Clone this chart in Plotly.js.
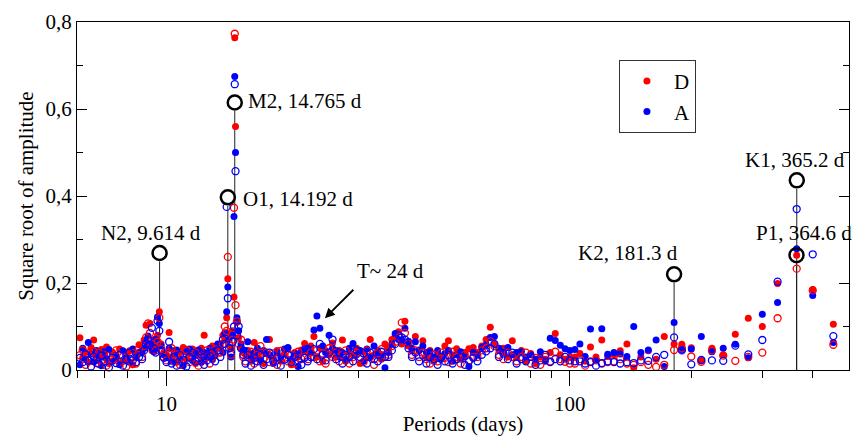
<!DOCTYPE html>
<html><head><meta charset="utf-8">
<script src="https://cdn.plot.ly/plotly-3.0.1.min.js"></script>
<style>html,body{margin:0;padding:0;background:#fff}#chart{width:854px;height:436px}</style>
</head><body><div id="chart"></div>
<script>
// Periods (days) – shared frequency grid (subsampled)
const periods = [
 6.0, 6.1, 6.2, 6.3, 6.4, 6.5, 6.6, 6.7, 6.8, 6.9, 7.0, 7.1, 7.2, 7.35, 7.5, 7.65, 7.8, 7.95, 8.1, 8.25, 8.4, 8.55,
 8.7, 8.8, 8.9, 9.0, 9.1, 9.2, 9.3, 9.4, 9.5, 9.6, 9.7, 9.85, 10.0,
 10.15, 10.3, 10.45, 10.6, 10.8, 11.0, 11.2, 11.4, 11.6, 11.8, 12.0, 12.2, 12.4, 12.6, 12.8, 13.0, 13.2, 13.4,
 13.6, 13.8, 13.95, 14.1, 14.192, 14.3, 14.45, 14.6, 14.7, 14.765, 14.83, 14.95, 15.1, 15.3, 15.5,
 15.7, 15.9, 16.2, 16.5, 16.8, 17.1, 17.4, 17.7, 18.0, 18.4, 18.8, 19.2, 19.6, 20.0, 20.4, 20.8, 21.2, 21.6, 22.0,
 22.4, 22.8, 23.2, 23.6, 24.0, 24.4, 24.8, 25.3, 25.8,
 26.3, 26.8, 27.3, 27.8, 28.4, 29.0, 29.6, 30.2, 30.8, 31.4, 32.0, 32.7, 33.4, 34.1, 34.8,
 35.5, 36.2, 36.9, 37.6, 38.3, 39.0, 39.8, 40.6, 41.4,
 42.3, 43.2, 44.1, 45.0, 46.0, 47.0, 48.0, 49.0, 50.0, 51.2, 52.4, 53.6, 54.9, 56.2, 57.6,
 59.0, 60.5, 62.0, 63.5, 65.0, 66.7, 68.4, 70.2, 72.0,
 73.8, 75.8, 77.8, 80.0, 82.2, 84.5, 86.9, 89.4, 92.0, 94.7, 97.3, 100.0,
 102.9, 105.9, 109.1, 112.5, 116.1, 120.0, 124.1, 128.6, 133.3, 138.5, 144.0, 150.0, 156.5, 163.6, 171.4, 181.3, 189.5, 200.0, 211.8, 225.0, 240.0, 257.1, 276.9, 300.0, 327.3, 365.0, 400.0, 450.0
];
// D, filled markers
const ampDfilled = [
 0.045, 0.074, 0.028, 0.040, 0.018, 0.052, 0.069, 0.035, 0.022, 0.047, 0.030, 0.053, 0.015, 0.041, 0.026, 0.048, 0.020, 0.036, 0.044, 0.012, 0.038, 0.058,
 0.050, 0.069, 0.103, 0.060, 0.107, 0.045, 0.070, 0.055, 0.080, 0.134, 0.060, 0.040, 0.035,
 0.086, 0.030, 0.045, 0.018, 0.040, 0.052, 0.025, 0.038, 0.048, 0.015, 0.035, 0.050, 0.080, 0.028, 0.042, 0.055, 0.033, 0.058,
 0.060, 0.080, 0.070, 0.120, 0.210, 0.085, 0.050, 0.090, 0.168, 0.764, 0.560, 0.110, 0.075, 0.050, 0.040,
 0.035, 0.045, 0.020, 0.063, 0.030, 0.042, 0.015, 0.038, 0.070, 0.028, 0.045, 0.020, 0.036, 0.050, 0.012, 0.040, 0.030, 0.046, 0.061,
 0.040, 0.055, 0.077, 0.030, 0.050, 0.020, 0.045, 0.035, 0.062,
 0.030, 0.045, 0.069, 0.020, 0.040, 0.035, 0.050, 0.015, 0.042, 0.028, 0.070, 0.035, 0.045, 0.025, 0.060,
 0.050, 0.070, 0.080, 0.088, 0.060, 0.112, 0.055, 0.045, 0.077,
 0.045, 0.067, 0.030, 0.045, 0.020, 0.038, 0.030, 0.055, 0.067, 0.035, 0.049, 0.025, 0.040, 0.049, 0.052,
 0.040, 0.055, 0.070, 0.098, 0.060, 0.045, 0.050, 0.030, 0.067,
 0.030, 0.045, 0.020, 0.038, 0.015, 0.030, 0.025, 0.040, 0.084, 0.035, 0.025, 0.030,
 0.030, 0.038, 0.020, 0.053, 0.030, 0.069, 0.031, 0.035, 0.044, 0.060, 0.005, 0.030, 0.044, 0.025, 0.077, 0.060, 0.059, 0.051, 0.022, 0.050, 0.035, 0.082, 0.119, 0.100, 0.199, 0.264, 0.185, 0.105
];
// D, open markers
const ampDopen = [
 0.020, 0.034, 0.046, 0.012, 0.038, 0.025, 0.043, 0.016, 0.040, 0.022, 0.035, 0.010, 0.032, 0.024, 0.045, 0.018, 0.030, 0.008, 0.026, 0.039, 0.015, 0.050,
 0.030, 0.055, 0.075, 0.107, 0.085, 0.060, 0.050, 0.045, 0.065, 0.120, 0.048, 0.030, 0.022,
 0.040, 0.050, 0.020, 0.036, 0.012, 0.030, 0.046, 0.018, 0.028, 0.040, 0.010, 0.034, 0.025, 0.045, 0.015, 0.030, 0.048, 0.040,
 0.040, 0.060, 0.100, 0.090, 0.260, 0.060, 0.035, 0.070, 0.373, 0.773, 0.149, 0.112, 0.060, 0.070, 0.030,
 0.020, 0.030, 0.042, 0.015, 0.035, 0.055, 0.025, 0.040, 0.018, 0.038, 0.012, 0.044, 0.028, 0.020, 0.035, 0.015, 0.042, 0.025, 0.030,
 0.025, 0.040, 0.030, 0.045, 0.020, 0.038, 0.015, 0.050, 0.030,
 0.040, 0.020, 0.035, 0.045, 0.015, 0.030, 0.040, 0.025, 0.018, 0.045, 0.030, 0.012, 0.038, 0.048, 0.030,
 0.035, 0.055, 0.065, 0.075, 0.109, 0.085, 0.060, 0.035, 0.045,
 0.030, 0.040, 0.025, 0.015, 0.035, 0.020, 0.040, 0.028, 0.018, 0.042, 0.030, 0.015, 0.035, 0.022, 0.030,
 0.030, 0.045, 0.050, 0.066, 0.055, 0.035, 0.025, 0.040, 0.030,
 0.020, 0.030, 0.040, 0.015, 0.028, 0.012, 0.030, 0.020, 0.042, 0.025, 0.019, 0.015,
 0.015, 0.025, 0.010, 0.020, 0.022, 0.015, 0.018, 0.020, 0.025, 0.015, 0.012, 0.018, 0.012, 0.007, 0.012, 0.046, 0.050, 0.031, 0.019, 0.045, 0.033, 0.021, 0.030, 0.040, 0.119, 0.233, 0.183, 0.058
];
// A, filled markers
const ampAfilled = [
 0.030, 0.012, 0.050, 0.024, 0.063, 0.036, 0.019, 0.045, 0.030, 0.010, 0.042, 0.026, 0.047, 0.020, 0.034, 0.012, 0.044, 0.028, 0.018, 0.048, 0.030, 0.040,
 0.040, 0.050, 0.065, 0.078, 0.060, 0.050, 0.042, 0.070, 0.122, 0.107, 0.055, 0.035, 0.028,
 0.050, 0.020, 0.038, 0.046, 0.025, 0.010, 0.042, 0.048, 0.022, 0.036, 0.046, 0.018, 0.040, 0.030, 0.050, 0.024, 0.044, 0.060,
 0.050, 0.040, 0.085, 0.134, 0.191, 0.070, 0.030, 0.080, 0.353, 0.675, 0.500, 0.120, 0.090, 0.060, 0.045,
 0.045, 0.065, 0.030, 0.040, 0.050, 0.022, 0.045, 0.070, 0.035, 0.015, 0.040, 0.030, 0.048, 0.052, 0.025, 0.038, 0.008, 0.040, 0.048,
 0.050, 0.040, 0.092, 0.124, 0.096, 0.055, 0.040, 0.080, 0.050,
 0.045, 0.030, 0.040, 0.025, 0.050, 0.061, 0.035, 0.045, 0.020, 0.048, 0.030, 0.055, 0.040, 0.035, 0.005,
 0.040, 0.060, 0.084, 0.070, 0.069, 0.096, 0.066, 0.050, 0.065,
 0.046, 0.055, 0.040, 0.042, 0.030, 0.045, 0.025, 0.038, 0.045, 0.020, 0.035, 0.042, 0.030, 0.008, 0.040,
 0.035, 0.052, 0.058, 0.075, 0.077, 0.050, 0.040, 0.052, 0.035,
 0.040, 0.042, 0.030, 0.035, 0.025, 0.042, 0.020, 0.073, 0.068, 0.057, 0.049, 0.045,
 0.047, 0.060, 0.031, 0.094, 0.023, 0.095, 0.036, 0.040, 0.037, 0.031, 0.100, 0.040, 0.046, 0.069, 0.008, 0.109, 0.046, 0.048, 0.077, 0.042, 0.050, 0.059, 0.028, 0.128, 0.155, 0.279, 0.171, 0.063
];
// A, open markers
const ampAopen = [
 0.012, 0.028, 0.018, 0.036, 0.022, 0.008, 0.030, 0.024, 0.014, 0.033, 0.020, 0.038, 0.006, 0.028, 0.016, 0.035, 0.010, 0.024, 0.040, 0.022, 0.018, 0.030,
 0.025, 0.045, 0.060, 0.070, 0.058, 0.097, 0.050, 0.040, 0.113, 0.090, 0.045, 0.028, 0.018,
 0.065, 0.015, 0.030, 0.010, 0.034, 0.024, 0.008, 0.030, 0.040, 0.020, 0.028, 0.036, 0.012, 0.022, 0.032, 0.040, 0.020, 0.045,
 0.030, 0.070, 0.060, 0.375, 0.165, 0.050, 0.040, 0.065, 0.100, 0.657, 0.457, 0.080, 0.100, 0.050, 0.035,
 0.015, 0.035, 0.010, 0.028, 0.020, 0.035, 0.012, 0.025, 0.040, 0.020, 0.030, 0.010, 0.024, 0.035, 0.018, 0.030, 0.022, 0.012, 0.028,
 0.020, 0.030, 0.048, 0.025, 0.060, 0.035, 0.022, 0.040, 0.070,
 0.025, 0.040, 0.015, 0.035, 0.030, 0.020, 0.045, 0.030, 0.038, 0.015, 0.040, 0.025, 0.020, 0.042, 0.030,
 0.030, 0.045, 0.060, 0.080, 0.075, 0.070, 0.050, 0.030, 0.040,
 0.020, 0.035, 0.015, 0.030, 0.025, 0.012, 0.030, 0.020, 0.035, 0.015, 0.025, 0.030, 0.012, 0.020, 0.028,
 0.020, 0.035, 0.043, 0.050, 0.060, 0.030, 0.038, 0.025, 0.040,
 0.015, 0.025, 0.020, 0.030, 0.012, 0.022, 0.035, 0.018, 0.025, 0.020, 0.030, 0.022,
 0.020, 0.020, 0.015, 0.018, 0.010, 0.016, 0.020, 0.018, 0.015, 0.018, 0.016, 0.022, 0.021, 0.030, 0.035, 0.075, 0.045, 0.013, 0.023, 0.022, 0.021, 0.056, 0.036, 0.069, 0.203, 0.370, 0.266, 0.078
];

// Marked tidal constituents
const markLabels  = ['N2, 9.614 d', 'O1, 14.192 d', 'M2, 14.765 d', 'K2, 181.3 d', 'K1, 365.2 d', 'P1, 364.6 d'];
const markPeriods = [9.614, 14.192, 14.765, 181.3, 365.2, 364.6];
const markAmps    = [0.269, 0.397, 0.615, 0.220, 0.436, 0.264];
const arrowLabel = 'T~ 24 d';
const arrowPeriod = 24.7;
const arrowAmp = 0.119;

// Axis ticks
const xTickVals = [10, 100];
const xTickText = ['10', '100'];
const xMinorVals = [6, 7, 8, 9, 20, 30, 40, 50, 60, 70, 80, 90, 200, 300, 400];
const yTickVals = [0, 0.2, 0.4, 0.6, 0.8];
const yTickText = ['0', '0,2', '0,4', '0,6', '0,8'];
const yMinorVals = [0.1, 0.3, 0.5, 0.7];

// ---- styles ----
const FONT = 'Liberation Serif, Times New Roman, serif';
const RED = '#ff0000', BLUE = '#0000ff';
const labelStyle = [
  {xanchor: 'center', xshift: -9, yshift: 20},
  {xanchor: 'left', xshift: 13, yshift: -2},
  {xanchor: 'left', xshift: 11, yshift: 1},
  {xanchor: 'center', xshift: -46, yshift: 21},
  {xanchor: 'center', xshift: -2, yshift: 20},
  {xanchor: 'center', xshift: 8, yshift: 22}
];
const circleR = 8.5 * 0.8 / 348;

const lineX = [], lineY = [];
markPeriods.forEach((p, i) => { lineX.push(p, p, null); lineY.push(0, markAmps[i] - circleR, null); });

const traces = [
  {x: lineX, y: lineY, mode: 'lines', line: {color: '#222', width: 1}, showlegend: false, hoverinfo: 'skip'},
  {x: periods, y: ampDfilled, mode: 'markers', name: 'D', marker: {symbol: 'circle', size: 7, color: RED}, cliponaxis: false},
  {x: periods, y: ampAfilled, mode: 'markers', name: 'A', marker: {symbol: 'circle', size: 7, color: BLUE}, cliponaxis: false},
  {x: periods, y: ampDopen, mode: 'markers', name: 'D open', showlegend: false, marker: {symbol: 'circle-open', size: 7, color: RED, line: {width: 1.3}}, cliponaxis: false},
  {x: periods, y: ampAopen, mode: 'markers', name: 'A open', showlegend: false, marker: {symbol: 'circle-open', size: 7, color: BLUE, line: {width: 1.3}}, cliponaxis: false},
  {x: markPeriods, y: markAmps, mode: 'markers', showlegend: false, marker: {symbol: 'circle-open', size: 14, color: '#000', line: {width: 2.5}}, cliponaxis: false}
];

const annotations = markLabels.map((t, i) => ({
  x: Math.log10(markPeriods[i]), y: markAmps[i], xref: 'x', yref: 'y', text: t, showarrow: false,
  xanchor: labelStyle[i].xanchor, yanchor: 'middle', xshift: labelStyle[i].xshift, yshift: labelStyle[i].yshift,
  font: {family: FONT, size: 21, color: '#000'}
}));
annotations.push({
  x: Math.log10(arrowPeriod), y: arrowAmp, xref: 'x', yref: 'y', text: '', showarrow: true,
  ax: 30, ay: -30, arrowhead: 2, arrowsize: 1.1, arrowwidth: 1.8, arrowcolor: '#000'
});
annotations.push({
  x: Math.log10(arrowPeriod), y: arrowAmp, xref: 'x', yref: 'y', text: arrowLabel, showarrow: false,
  xanchor: 'center', yanchor: 'middle', xshift: 66, yshift: 47,
  font: {family: FONT, size: 21, color: '#000'}
});

const layout = {
  width: 854, height: 436,
  margin: {l: 77, r: 5, t: 22, b: 66},
  paper_bgcolor: '#fff', plot_bgcolor: '#fff',
  font: {family: FONT, size: 21, color: '#000'},
  showlegend: true,
  legend: {x: 0.702, y: 0.891, xanchor: 'left', yanchor: 'top', bgcolor: '#fff', bordercolor: '#333', borderwidth: 1,
           font: {family: FONT, size: 21, color: '#000'}, itemwidth: 44, tracegroupgap: 0},
  xaxis: {
    type: 'log', range: [Math.log10(6), 2.692], autorange: false,
    tickmode: 'array', tickvals: xTickVals, ticktext: xTickText,
    ticks: 'outside', ticklen: 15, tickwidth: 1, tickcolor: '#000',
    minor: {tickmode: 'array', tickvals: xMinorVals, ticks: 'outside', ticklen: 7, tickwidth: 1, tickcolor: '#000', showgrid: false},
    showline: true, linecolor: '#000', linewidth: 1, mirror: true,
    showgrid: false, zeroline: false,
    tickfont: {family: FONT, size: 21, color: '#000'},
    title: {text: 'Periods (days)', font: {family: FONT, size: 21, color: '#000'}, standoff: 2},
    automargin: false
  },
  yaxis: {
    range: [0, 0.8], autorange: false,
    tickmode: 'array', tickvals: yTickVals, ticktext: yTickText,
    ticks: 'inside', ticklen: 10, tickwidth: 1, tickcolor: '#000',
    minor: {tickmode: 'array', tickvals: yMinorVals, ticks: 'inside', ticklen: 6, tickwidth: 1, tickcolor: '#000', showgrid: false},
    showline: true, linecolor: '#000', linewidth: 1, mirror: 'ticks',
    showgrid: false, zeroline: false,
    tickfont: {family: FONT, size: 21, color: '#000'},
    title: {text: 'Square root of amplitude', font: {family: FONT, size: 21, color: '#000'}, standoff: 6},
    automargin: false
  },
  annotations: annotations
};

Plotly.newPlot('chart', traces, layout, {displayModeBar: false, staticPlot: true});
</script>
</body></html>
